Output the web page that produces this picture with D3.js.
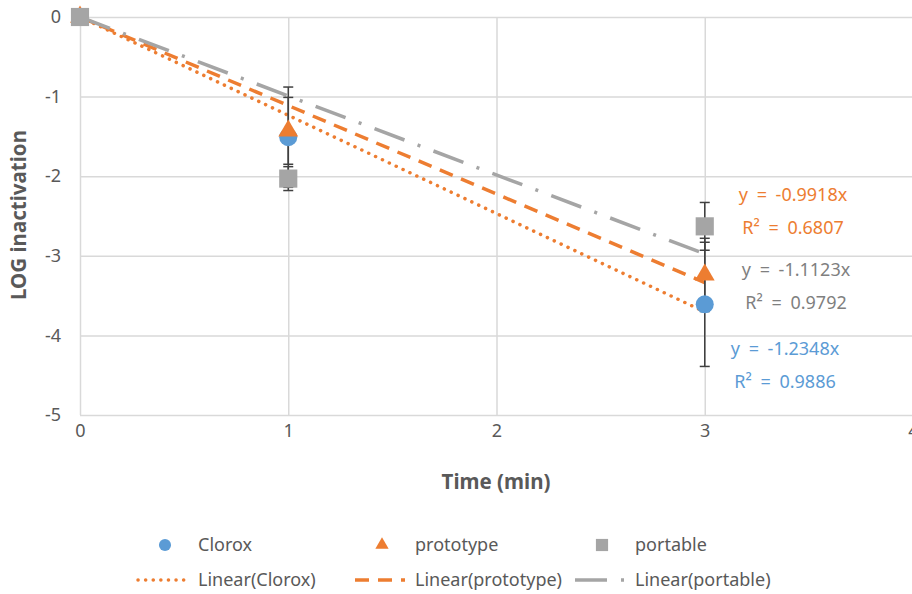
<!DOCTYPE html>
<html>
<head>
<meta charset="utf-8">
<script src="https://cdn.jsdelivr.net/npm/d3@7"></script>
<style>
  body { margin: 0; background: #fff; }
  text { font-family: "Noto Sans", "Open Sans", sans-serif; }
</style>
</head>
<body>
<div id="chart"></div>
<script>
// data
var times = [0, 1, 3];
var seriesNames = ["Clorox", "prototype", "portable"];
var cloroxValues = [0, -1.51, -3.61];
var prototypeValues = [0, -1.43, -3.24];
var portableValues = [0, -2.03, -2.63];
var cloroxErrors = [0, 0.63, 0.78];
var prototypeErrors = [0, 0.42, 0.46];
var portableErrors = [0, 0.15, 0.30];
// trendline slopes as printed on the chart (forced through origin)
var trendSlopes = [-1.2348, -1.1123, -0.9918];
var trendR2 = [0.9886, 0.9792, 0.6807];
var xTicks = [0, 1, 2, 3, 4];
var yTicks = [0, -1, -2, -3, -4, -5];

var width = 912, height = 594;
var plotLeft = 80, plotTop = 17, plotRight = 913, plotBottom = 415;

var blue = "#5B9BD5", orange = "#ED7D31", gray = "#A5A5A5", textCol = "#595959";

var svg = d3.select("#chart").append("svg")
    .attr("width", width)
    .attr("height", height);

var x = d3.scaleLinear().domain([0, 4]).range([plotLeft, plotRight]);
var y = d3.scaleLinear().domain([-5, 0]).range([plotBottom, plotTop]);

// gridlines + tick labels
var yAxis = svg.append("g")
    .attr("transform", "translate(" + plotLeft + ",0)")
    .call(d3.axisLeft(y).tickValues(yTicks).tickSize(-(plotRight - plotLeft)).tickPadding(19)
        .tickFormat(function(d){ return String(d); }));
var xAxis = svg.append("g")
    .attr("transform", "translate(0," + plotBottom + ")")
    .call(d3.axisBottom(x).tickValues(xTicks).tickSize(-(plotBottom - plotTop)).tickPadding(18)
        .tickFormat(function(d){ return String(d); }));
[yAxis, xAxis].forEach(function(a){
    a.select(".domain").remove();
    a.selectAll("line").attr("stroke", "#d9d9d9").attr("stroke-width", 1.5);
    a.selectAll("text").attr("fill", textCol).style("font-size", "18px");
});
xAxis.selectAll("text").attr("dy", "0.2em");

// axis titles
svg.append("text")
    .attr("x", 496)
    .attr("y", 482)
    .attr("dy", "0.35em")
    .attr("text-anchor", "middle")
    .attr("fill", textCol)
    .style("font-size", "20.5px").style("font-weight", "bold")
    .text("Time (min)");
svg.append("text")
    .attr("transform", "translate(19,215) rotate(-90)")
    .attr("dy", "0.35em")
    .attr("text-anchor", "middle")
    .attr("fill", textCol)
    .style("font-size", "20.5px").style("font-weight", "bold")
    .text("LOG inactivation");

// trendlines
var trendStyles = [
    { color: orange, dash: "0.1 7.5", cap: "round", w: 3.5 },
    { color: orange, dash: "14 9", cap: "butt", w: 3.5 },
    { color: gray, dash: "32 14 3 14", cap: "butt", w: 3.5 }
];
trendSlopes.forEach(function(s, i){
    var st = trendStyles[i];
    svg.append("line")
        .attr("x1", x(0)).attr("y1", y(0))
        .attr("x2", x(3)).attr("y2", y(s * 3))
        .attr("stroke", st.color)
        .attr("stroke-width", st.w)
        .attr("stroke-dasharray", st.dash)
        .attr("stroke-linecap", st.cap);
});

// error bars
var allValues = [cloroxValues, prototypeValues, portableValues];
var allErrors = [cloroxErrors, prototypeErrors, portableErrors];
var errG = svg.append("g").attr("stroke", "#404040").attr("stroke-width", 1.5);
allValues.forEach(function(vals, i){
    vals.forEach(function(v, j){
        var e = allErrors[i][j];
        if (!e) return;
        var cx = x(times[j]);
        errG.append("line").attr("x1", cx).attr("x2", cx).attr("y1", y(v + e)).attr("y2", y(v - e));
        [v + e, v - e].forEach(function(t){
            errG.append("line").attr("x1", cx - 5).attr("x2", cx + 5).attr("y1", y(t)).attr("y2", y(t));
        });
    });
});

// markers
var symbols = [
    { type: d3.symbolCircle, size: 255, color: blue },
    { type: d3.symbolTriangle, size: 170, color: orange },
    { type: d3.symbolSquare, size: 330, color: gray }
];
allValues.forEach(function(vals, i){
    svg.selectAll(".m" + i)
        .data(vals)
        .enter()
        .append("path")
        .attr("d", d3.symbol().type(symbols[i].type).size(symbols[i].size))
        .attr("transform", function(d, j){ return "translate(" + x(times[j]) + "," + y(d) + ")"; })
        .attr("fill", symbols[i].color);
});

// trendline equations
var eqColors = [blue, "#7f7f7f", orange];
var eqPos = [[785, 349], [796, 270], [793, 195]];
trendSlopes.forEach(function(s, i){
    var g = svg.append("g")
        .attr("fill", eqColors[i])
        .attr("text-anchor", "middle")
        .style("font-size", "18px")
        .style("word-spacing", "4px");
    g.append("text").attr("x", eqPos[i][0]).attr("y", eqPos[i][1]).attr("dy", "0.35em")
        .text("y = " + s.toFixed(4) + "x");
    g.append("text").attr("x", eqPos[i][0]).attr("y", eqPos[i][1] + 33).attr("dy", "0.35em")
        .text("R\u00B2 = " + trendR2[i].toFixed(4));
});

// legend
var legendCols = [136, 353, 573];
var leg = svg.append("g");
seriesNames.forEach(function(name, i){
    var cx = legendCols[i];
    leg.append("path")
        .attr("d", d3.symbol().type(symbols[i].type).size(symbols[i].size * 0.45))
        .attr("transform", "translate(" + (cx + 29) + ",545)")
        .attr("fill", symbols[i].color);
    leg.append("text").attr("x", cx + 62).attr("y", 545).attr("dy", "0.35em")
        .attr("fill", textCol).style("font-size", "18px").text(name);

    var st = trendStyles[i];
    leg.append("line")
        .attr("x1", cx + 2).attr("x2", cx + 52)
        .attr("y1", 580).attr("y2", 580)
        .attr("stroke", st.color)
        .attr("stroke-width", st.w)
        .attr("stroke-dasharray", st.dash)
        .attr("stroke-linecap", st.cap);
    leg.append("text").attr("x", cx + 62).attr("y", 580).attr("dy", "0.35em")
        .attr("fill", textCol).style("font-size", "18px").text("Linear(" + name + ")");
});
</script>
</body>
</html>
